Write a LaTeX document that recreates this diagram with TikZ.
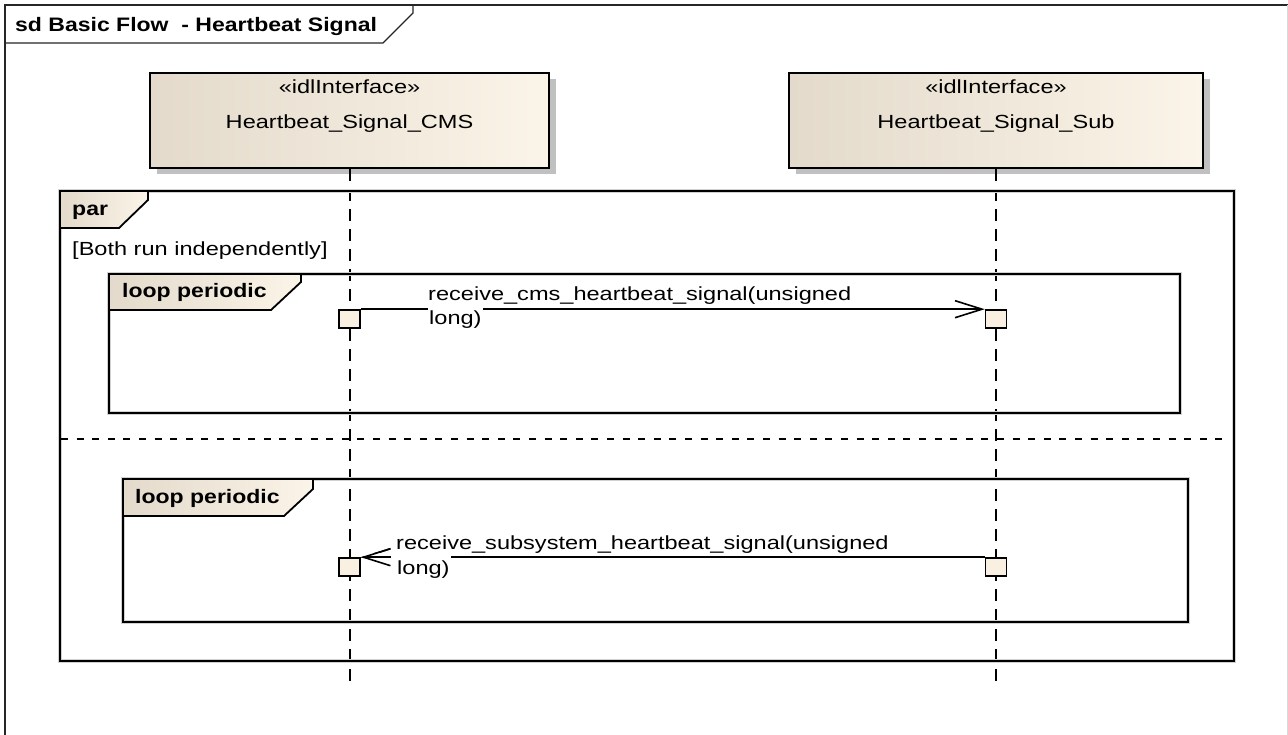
\documentclass[tikz,border=0pt]{standalone}
\usepackage{fontspec}
\usetikzlibrary{arrows.meta,calc,shadows}
\newfontfamily\eafont[FakeStretch=1.24]{Liberation Sans}
\newfontfamily\eabfont[FakeStretch=1.18]{Liberation Sans}
\newcommand\regtxt{\eafont\fontsize{19}{23}\selectfont}
\newcommand\boldtxt{\eabfont\bfseries\fontsize{19.5}{23}\selectfont}
\definecolor{tanL}{RGB}{227,218,203}
\definecolor{tanR}{RGB}{251,244,232}
\definecolor{execfill}{RGB}{250,240,226}
\definecolor{shadowgray}{RGB}{192,192,192}
\begin{document}
\begin{tikzpicture}[x=1pt,y=-1pt,
  lifebox/.style={draw=black, line width=2.4, left color=tanL, right color=tanR, inner sep=0,
    drop shadow={shadow xshift=7pt, shadow yshift=-6pt, fill=shadowgray, opacity=1}},
  lifeline/.style={line width=2, dash pattern=on 12pt off 8pt},
  umlframe/.style={draw=black, line width=2.2, inner sep=0, preaction={draw=black!18, line width=4}},
  tagshape/.style={draw=black, line width=1.8, left color=tanL, right color=tanR},
  sepline/.style={line width=2, dash pattern=on 7pt off 8.6pt},
  execbox/.style={draw=black, line width=1.6, fill=execfill, minimum width=21, minimum height=18, inner sep=0},
  msgline/.style={line width=1.6},
  msgarrow/.style={msgline, -{Straight Barb[length=27pt,width=17pt]}},
  txt/.style={font=\regtxt, inner sep=0, anchor=base west},
  btxt/.style={font=\boldtxt, inner sep=0, anchor=base west},
  ctxt/.style={font=\regtxt, inner sep=0, anchor=base},
  covertxt/.style={txt, fill=white, inner xsep=1, text height=18, text depth=4},
]
\useasboundingbox (0,0) rectangle (1288,735);
\fill[white] (0,0) rectangle (1288,735);

% diagram frame
\draw[line width=1.5, black!85] (5,735) -- (5,5) -- (1288,5);
\draw[line width=1, black!15] (1287,5) -- (1287,735);
\draw[line width=1.3, black!85] (5,43) -- (383,43) -- (413,13) -- (413,5);
\node[btxt] (title) at (15,32) {sd Basic Flow\ \ - Heartbeat Signal};

% lifelines
\node[lifebox, minimum width=399, minimum height=95] (cms) at (349.5,120.5) {};
\node[lifebox, minimum width=414, minimum height=95] (sub) at (996,120.5) {};
\node[ctxt] (cmsst) at (349.5,94) {«idlInterface»};
\node[ctxt] (cmsname) at (349.5,129) {Heartbeat\_Signal\_CMS};
\node[ctxt] (subst) at (996,94) {«idlInterface»};
\node[ctxt] (subname) at (996,129) {Heartbeat\_Signal\_Sub};
\coordinate (cmsend) at (349.5,688);
\coordinate (subend) at (996,688);
\draw[lifeline] (cms.south) -- (cmsend);
\draw[lifeline] (sub.south) -- (subend);

% par fragment
\node[umlframe, minimum width=1174, minimum height=470] (par) at (647,426) {};
\draw[tagshape] (60,191) -- (148,191) -- (148,200) -- (119,228) -- (60,228) -- cycle;
\node[btxt] (partag) at (72,216) {par};
\node[txt] (guard) at (72,256) {[Both run independently]};
\coordinate (sepL) at (61,439);
\coordinate (sepR) at (1226,439);
\draw[sepline] (sepL) -- (sepR);

% loop fragments
\node[umlframe, minimum width=1071, minimum height=139] (loopA) at (644.5,343.5) {};
\draw[tagshape] (109,274) -- (301,274) -- (301,282) -- (271,310) -- (109,310) -- cycle;
\node[btxt] (loopAtag) at (122,298) {loop periodic};
\node[umlframe, minimum width=1065, minimum height=143] (loopB) at (655.5,550.5) {};
\draw[tagshape] (123,479) -- (313,479) -- (313,489) -- (284,516) -- (123,516) -- cycle;
\node[btxt] (loopBtag) at (135,503) {loop periodic};

% execution specifications
\node[execbox] (cx1) at (349.5,319) {};
\node[execbox] (sx1) at (996,319) {};
\node[execbox] (cx2) at (349.5,567) {};
\node[execbox] (sx2) at (996,567) {};

% messages
\draw[msgarrow] (cx1.north east) -- (sx1.north west);
\node[txt] (m1a) at (428,301) {receive\_cms\_heartbeat\_signal(unsigned};
\node[covertxt] (m1b) at (428,325) {long)};

\draw[msgarrow] (sx2.north west) -- (cx2.north east);
\node[txt] (m2a) at (396,549) {receive\_subsystem\_heartbeat\_signal(unsigned};
\node[covertxt] (m2b) at (396,574) {long)};
\fill[white] ([xshift=3pt,yshift=4pt]cx2.north east) rectangle (m2b.south west);
\draw[msgarrow] ([xshift=30pt]cx2.north east) -- (cx2.north east);
\end{tikzpicture}
\end{document}
